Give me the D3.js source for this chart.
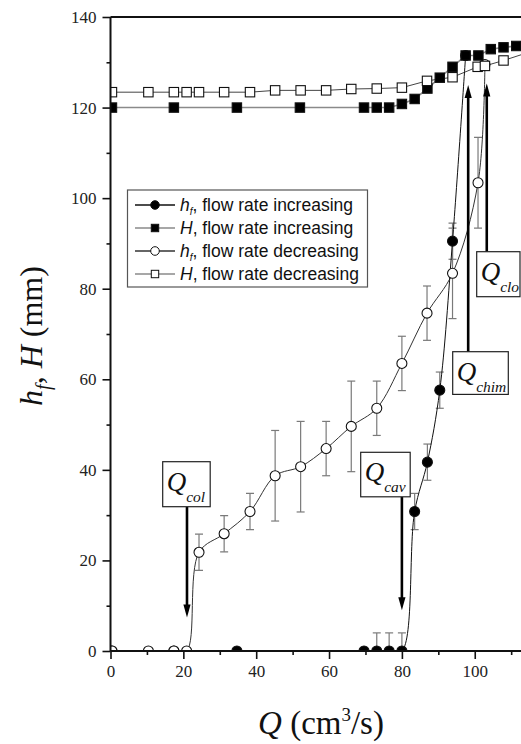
<!DOCTYPE html>
<html>
<head>
<meta charset="utf-8">
<script src="https://cdn.jsdelivr.net/npm/d3@7"></script>
<style>
  body { margin: 0; background: #fff; }
  svg { display: block; }
</style>
</head>
<body>
<svg id="chart" width="521" height="744"></svg>
<script>
// h_f, flow rate increasing (filled circles)
var qHfInc   = [0.4, 17.4, 34.7, 69.6, 73.1, 76.5, 80, 83.5, 87, 90.4, 93.9, 97.5];
var hfInc    = [0, 0, 0, 0, 0, 0, 0, 30.8, 41.7, 57.6, 90.5, 131.5];
var hfIncErr = [0, 0, 0, 0, 4, 4, 4, 4, 4, 4, 4, 0];

// H, flow rate increasing (filled squares)
var qHInc = [0.4, 17.4, 34.7, 52, 69.6, 73.1, 76.5, 80, 83.5, 87, 90.4, 93.9, 97.5, 101, 104.4, 107.9, 111.4];
var hInc  = [120, 120, 120, 120, 120, 120, 120, 120.8, 121.9, 124.2, 126.6, 129.0, 131.5, 131.5, 132.9, 133.3, 133.6];

// h_f, flow rate decreasing (open circles)
var qHfDec   = [0.4, 10.4, 17.4, 20.9, 24.3, 31.2, 38.3, 45.2, 52.2, 59.2, 66.1, 73.1, 80, 86.9, 93.9, 100.9, 102.8];
var hfDec    = [0, 0, 0, 0, 21.8, 25.9, 30.8, 38.7, 40.7, 44.7, 49.6, 53.6, 63.5, 74.6, 83.4, 103.4, 129.5];
var hfDecErr = [0, 0, 0, 0, 4, 4, 4, 10, 10, 6, 10, 6, 6, 6, 10, 10, 0];

// H, flow rate decreasing (open squares)
var qHDec = [0.4, 10.4, 17.4, 20.9, 24.3, 31.2, 38.3, 45.2, 52.2, 59.2, 66.1, 73.1, 80, 86.9, 93.9, 100.8, 102.8, 107.9, 114.8];
var hDec  = [123.4, 123.4, 123.4, 123.4, 123.4, 123.4, 123.4, 123.8, 123.8, 123.8, 124.1, 124.2, 124.4, 125.9, 126.7, 129.0, 129.2, 130.4, 132.2];

var xTicks = [0, 20, 40, 60, 80, 100];
var yTicks = [0, 20, 40, 60, 80, 100, 120, 140];

var legendLabels = ['flow rate increasing', 'flow rate increasing', 'flow rate decreasing', 'flow rate decreasing'];
var legendSymbols = ['h', 'H', 'h', 'H'];

// critical flow rates: name, Q, arrow tip value
var critNames = ['col', 'cav', 'chim', 'clo'];
var critQ     = [21, 80, 98.2, 103.3];
var critTip   = [7.4, 9, 125, 125.3];

var SERIF = '"Liberation Serif", "Times New Roman", serif';
var SANS = '"Liberation Sans", Arial, sans-serif';

function zip(xs, ys, es) {
	return xs.map(function(x, i) { return {q: x, v: ys[i], e: es ? es[i] : 0}; });
}

function main() {
	var svg = d3.select('#chart');
	var x = d3.scaleLinear().domain([0, 112.7]).range([110.5, 521]);
	var y = d3.scaleLinear().domain([0, 140]).range([651, 17]);

	svg.append('defs').append('clipPath').attr('id', 'plotclip')
		.append('rect')
		.attr('x', x(0)).attr('y', y(140) - 10)
		.attr('width', 521 - x(0)).attr('height', y(0) - y(140) + 10);

	var plot = svg.append('g').attr('clip-path', 'url(#plotclip)');

	var hfIncData = zip(qHfInc, hfInc, hfIncErr);
	var hIncData = zip(qHInc, hInc);
	var hfDecData = zip(qHfDec, hfDec, hfDecErr);
	var hDecData = zip(qHDec, hDec);

	// error bars
	function errorBars(data) {
		var g = plot.append('g').attr('stroke', '#7a7a7a').attr('stroke-width', 1.2);
		data.filter(function(d) { return d.e > 0; }).forEach(function(d) {
			var cx = x(d.q);
			g.append('line').attr('x1', cx).attr('x2', cx).attr('y1', y(d.v - d.e)).attr('y2', y(d.v + d.e));
			g.append('line').attr('x1', cx - 4).attr('x2', cx + 4).attr('y1', y(d.v + d.e)).attr('y2', y(d.v + d.e));
			g.append('line').attr('x1', cx - 4).attr('x2', cx + 4).attr('y1', y(d.v - d.e)).attr('y2', y(d.v - d.e));
		});
	}
	errorBars(hfDecData);
	errorBars(hfIncData);

	var straight = d3.line().x(function(d) { return x(d.q); }).y(function(d) { return y(d.v); });
	var smooth = d3.line().x(function(d) { return x(d.q); }).y(function(d) { return y(d.v); })
		.curve(d3.curveCatmullRom.alpha(0.5));

	plot.append('path').datum(hIncData).attr('d', straight)
		.attr('fill', 'none').attr('stroke', '#8a8a8a').attr('stroke-width', 1.6);
	plot.append('path').datum(hDecData).attr('d', straight)
		.attr('fill', 'none').attr('stroke', '#444').attr('stroke-width', 1);
	plot.append('path').datum(hfDecData).attr('d', smooth)
		.attr('fill', 'none').attr('stroke', '#333').attr('stroke-width', 1);
	plot.append('path').datum(hfIncData).attr('d', smooth)
		.attr('fill', 'none').attr('stroke', '#111').attr('stroke-width', 1);

	function circles(data, fill) {
		plot.append('g').selectAll('circle').data(data).enter().append('circle')
			.attr('cx', function(d) { return x(d.q); })
			.attr('cy', function(d) { return y(d.v); })
			.attr('r', 5)
			.attr('fill', fill).attr('stroke', '#111').attr('stroke-width', 1.1);
	}
	function squares(data, fill) {
		plot.append('g').selectAll('rect').data(data).enter().append('rect')
			.attr('x', function(d) { return x(d.q) - 4.7; })
			.attr('y', function(d) { return y(d.v) - 4.7; })
			.attr('width', 9.4).attr('height', 9.4)
			.attr('fill', fill).attr('stroke', '#111').attr('stroke-width', 1.1);
	}
	circles(hfIncData, '#000');
	circles(hfDecData, '#fff');
	squares(hIncData, '#000');
	squares(hDecData, '#fff');

	// axes
	var xAxis = d3.axisBottom(x).tickValues(xTicks).tickSize(8).tickPadding(6).tickFormat(d3.format('d'));
	var xMinor = d3.axisBottom(x).tickValues([10, 30, 50, 70, 90, 110]).tickSize(4).tickFormat('');
	var yAxis = d3.axisLeft(y).tickValues(yTicks).tickSize(8).tickPadding(6).tickFormat(d3.format('d'));
	var yMinor = d3.axisLeft(y).tickValues([10, 30, 50, 70, 90, 110, 130]).tickSize(4).tickFormat('');

	function styleAxis(g) {
		g.attr('font-family', SERIF).attr('font-size', 17);
		g.select('.domain').remove();
		g.selectAll('line').attr('stroke', '#111').attr('stroke-width', 1.6);
		g.selectAll('text').attr('fill', '#222')
			.attr('font-family', SERIF).attr('font-size', 17)
			.style('font-family', SERIF).style('font-size', '17px');
	}
	svg.append('g').attr('transform', 'translate(0,' + y(0) + ')').call(xAxis).call(styleAxis);
	svg.append('g').attr('transform', 'translate(0,' + y(0) + ')').call(xMinor).call(styleAxis);
	svg.append('g').attr('transform', 'translate(' + x(0) + ',0)').call(yAxis).call(styleAxis);
	svg.append('g').attr('transform', 'translate(' + x(0) + ',0)').call(yMinor).call(styleAxis);

	// frame
	svg.append('line').attr('x1', x(0)).attr('x2', 521).attr('y1', y(0)).attr('y2', y(0))
		.attr('stroke', '#111').attr('stroke-width', 2);
	svg.append('line').attr('x1', x(0)).attr('x2', 521).attr('y1', y(140)).attr('y2', y(140))
		.attr('stroke', '#111').attr('stroke-width', 2);
	svg.append('line').attr('x1', x(0)).attr('x2', x(0)).attr('y1', y(0)).attr('y2', y(140))
		.attr('stroke', '#111').attr('stroke-width', 2);

	// axis titles
	var xt = svg.append('text').attr('x', 321).attr('y', 734).attr('text-anchor', 'middle')
		.style('font-family', SERIF).style('font-size', '33px').attr('fill', '#111');
	xt.append('tspan').style('font-style', 'italic').text('Q');
	xt.append('tspan').text(' (cm');
	xt.append('tspan').attr('dy', -13).style('font-size', '19px').text('3');
	xt.append('tspan').attr('dy', 13).text('/s)');

	var yt = svg.append('text').attr('transform', 'translate(42,336) rotate(-90)').attr('text-anchor', 'middle')
		.style('font-family', SERIF).style('font-size', '32px').attr('fill', '#111');
	yt.append('tspan').style('font-style', 'italic').text('h');
	yt.append('tspan').attr('dy', 8).style('font-style', 'italic').style('font-size', '20px').text('f');
	yt.append('tspan').attr('dy', -8).text(', ');
	yt.append('tspan').style('font-style', 'italic').text('H');
	yt.append('tspan').text(' (mm)');

	// legend
	var lg = svg.append('g');
	lg.append('rect').attr('x', 127.5).attr('y', 190).attr('width', 240).attr('height', 97)
		.attr('fill', '#fff').attr('stroke', '#555').attr('stroke-width', 1.2);
	var lineCols = ['#111', '#8a8a8a', '#333', '#8a8a8a'];
	legendLabels.forEach(function(lab, i) {
		var ly = 205 + i * 23;
		var row = lg.append('g');
		row.append('line').attr('x1', 135).attr('x2', 175).attr('y1', ly).attr('y2', ly)
			.attr('stroke', lineCols[i]).attr('stroke-width', 1.3);
		var filled = i < 2 ? '#000' : '#fff';
		if (i % 2 === 0) {
			row.append('circle').attr('cx', 155).attr('cy', ly).attr('r', 4.3)
				.attr('fill', filled).attr('stroke', '#111').attr('stroke-width', 1);
		} else {
			row.append('rect').attr('x', 151.3).attr('y', ly - 3.7).attr('width', 7.4).attr('height', 7.4)
				.attr('fill', filled).attr('stroke', '#111').attr('stroke-width', 1);
		}
		var t = row.append('text').attr('x', 180).attr('y', ly + 6)
			.style('font-family', SANS).style('font-size', '17.5px').attr('fill', '#111');
		t.append('tspan').style('font-style', 'italic').text(legendSymbols[i]);
		if (legendSymbols[i] === 'h') {
			t.append('tspan').attr('dy', 4).style('font-style', 'italic').style('font-size', '10px').text('f');
			t.append('tspan').attr('dy', -4).text(', ' + lab);
		} else {
			t.append('tspan').text(', ' + lab);
		}
	});

	// critical flow rate annotations: boxes and arrows
	var boxLayout = {
		col:  {x0: 162.7, y0: 461.7, w: 47.5, h: 45, down: true},
		cav:  {x0: 360.7, y0: 452.3, w: 49.5, h: 44.5, down: true},
		chim: {x0: 452.7, y0: 351.7, w: 55.6, h: 42.7, down: false},
		clo:  {x0: 476.7, y0: 251.7, w: 43.3, h: 45, down: false}
	};
	critNames.forEach(function(name, i) {
		var b = boxLayout[name];
		var ax = x(critQ[i]);
		var tip = y(critTip[i]);
		var g = svg.append('g');
		var start = b.down ? b.y0 + b.h : b.y0;
		var lineEnd = b.down ? tip - 8 : tip + 8;
		g.append('line').attr('x1', ax).attr('x2', ax).attr('y1', start).attr('y2', lineEnd)
			.attr('stroke', '#000').attr('stroke-width', 2.6);
		var dir = b.down ? -1 : 1;
		g.append('path')
			.attr('d', 'M' + (ax - 3.6) + ',' + (tip + dir * 13) + 'L' + (ax + 3.6) + ',' + (tip + dir * 13) + 'L' + ax + ',' + tip + 'Z')
			.attr('fill', '#000');
		g.append('rect').attr('x', b.x0).attr('y', b.y0).attr('width', b.w).attr('height', b.h)
			.attr('fill', '#fff').attr('stroke', '#222').attr('stroke-width', 1.2);
		var t = g.append('text').attr('x', b.x0 + 4).attr('y', b.y0 + 29)
			.style('font-family', SERIF).style('font-style', 'italic').style('font-size', '27px').attr('fill', '#111');
		t.append('tspan').text('Q');
		t.append('tspan').attr('dy', 11).style('font-size', '15.5px').text(name);
	});
}

main();
</script>
</body>
</html>
